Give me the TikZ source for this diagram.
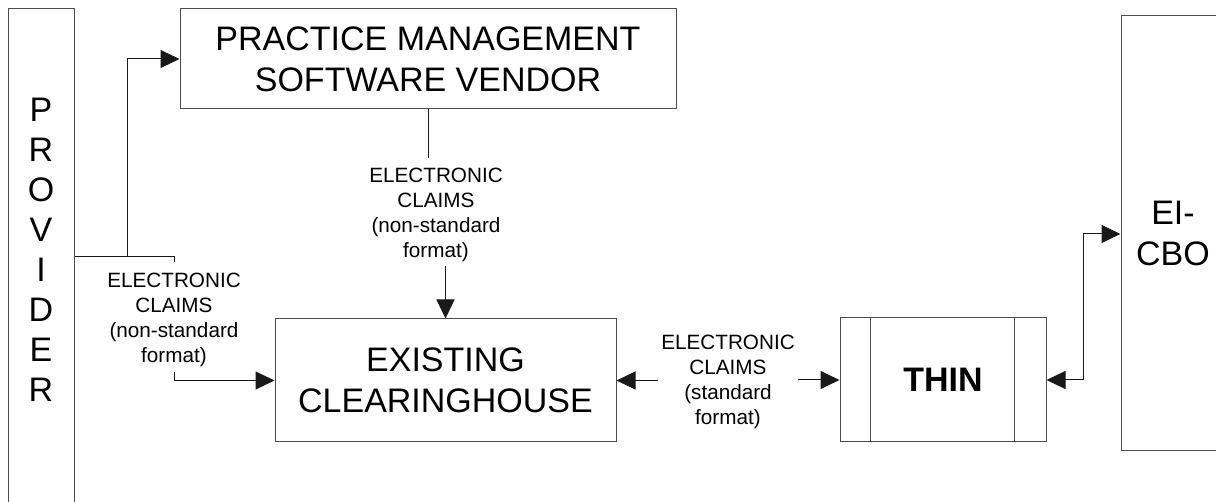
\documentclass[tikz,border=0pt]{standalone}
\usepackage{fontspec}
\setmainfont{Liberation Sans}
\usetikzlibrary{arrows.meta}
\begin{document}
\begin{tikzpicture}[x=1pt,y=-1pt,
  box/.style={draw=black!70, line width=1pt, rectangle, inner sep=0pt, align=center, font=\fontsize{34}{41}\selectfont},
  lbl/.style={inner sep=0pt, align=center, font=\fontsize{20.7}{25}\selectfont},
  conn/.style={draw=black!90, line width=1pt},
  tip/.style={-{Triangle[length=19pt,width=18pt]}},
  tips/.style={{Triangle[length=19pt,width=18pt]}-{Triangle[length=19pt,width=18pt]}}]
\useasboundingbox (0,0) rectangle (1216,502);
% boxes
\node[box, minimum width=66, minimum height=506] (prov) at (41,262) {};
\node[inner sep=0pt, align=center, font=\fontsize{34}{40}\selectfont] (provtext) at (41,249.5) {P\\R\\O\\V\\I\\D\\E\\R};
\node[box, minimum width=496, minimum height=100] (pmsv) at (428,59) {PRACTICE MANAGEMENT\\SOFTWARE VENDOR};
\node[box, minimum width=341, minimum height=123] (ch) at (445.5,380.5) {EXISTING\\CLEARINGHOUSE};
\node[box, minimum width=206, minimum height=124, font=\fontsize{34}{41}\selectfont\bfseries] (thin) at (943,380) {THIN};
\draw[draw=black!70, line width=1pt] ([xshift=31pt]thin.north west) -- ([xshift=31pt]thin.south west)
  ([xshift=-32pt]thin.north east) -- ([xshift=-32pt]thin.south east);
\node[box, minimum width=104, minimum height=435] (ei) at (1173,233.5) {EI-\\CBO};
% labels
\node[lbl, anchor=north] (lblL) at (174,273) {ELECTRONIC\\CLAIMS\\(non-standard\\format)};
\node[lbl, anchor=north] (lblT) at (436,168) {ELECTRONIC\\CLAIMS\\(non-standard\\format)};
\node[lbl, anchor=north] (lblR) at (728,335) {ELECTRONIC\\CLAIMS\\(standard\\format)};
% helper points
\path (lblL.north) ++(0,-11) coordinate (lLtop);
\path (lblL.south) ++(0,5) coordinate (lLbot);
\path (pmsv.south |- lblT.north) ++(0,-10) coordinate (lTtop);
\path (ch.north |- lblT.south) ++(0,4) coordinate (lTbot);
% connectors
\coordinate (j1) at (127,257);
\draw[conn, tip] (prov.east |- j1) -- (j1) |- (pmsv.west);
\draw[conn] (j1) -| (lLtop);
\draw[conn, tip] (lLbot) |- (ch.west);
\draw[conn] (pmsv.south) -- (lTtop);
\draw[conn, tip] (lTbot) -- (ch.north);
\draw[conn, tip] ([xshift=-3.5pt]lblR.west |- ch.east) -- (ch.east);
\draw[conn, tip] ([xshift=3.5pt]lblR.east |- thin.west) -- (thin.west);
\coordinate (j2) at (1083,234);
\draw[conn, tips] (thin.east) -| (j2) -- (ei.west |- j2);
\end{tikzpicture}
\end{document}
